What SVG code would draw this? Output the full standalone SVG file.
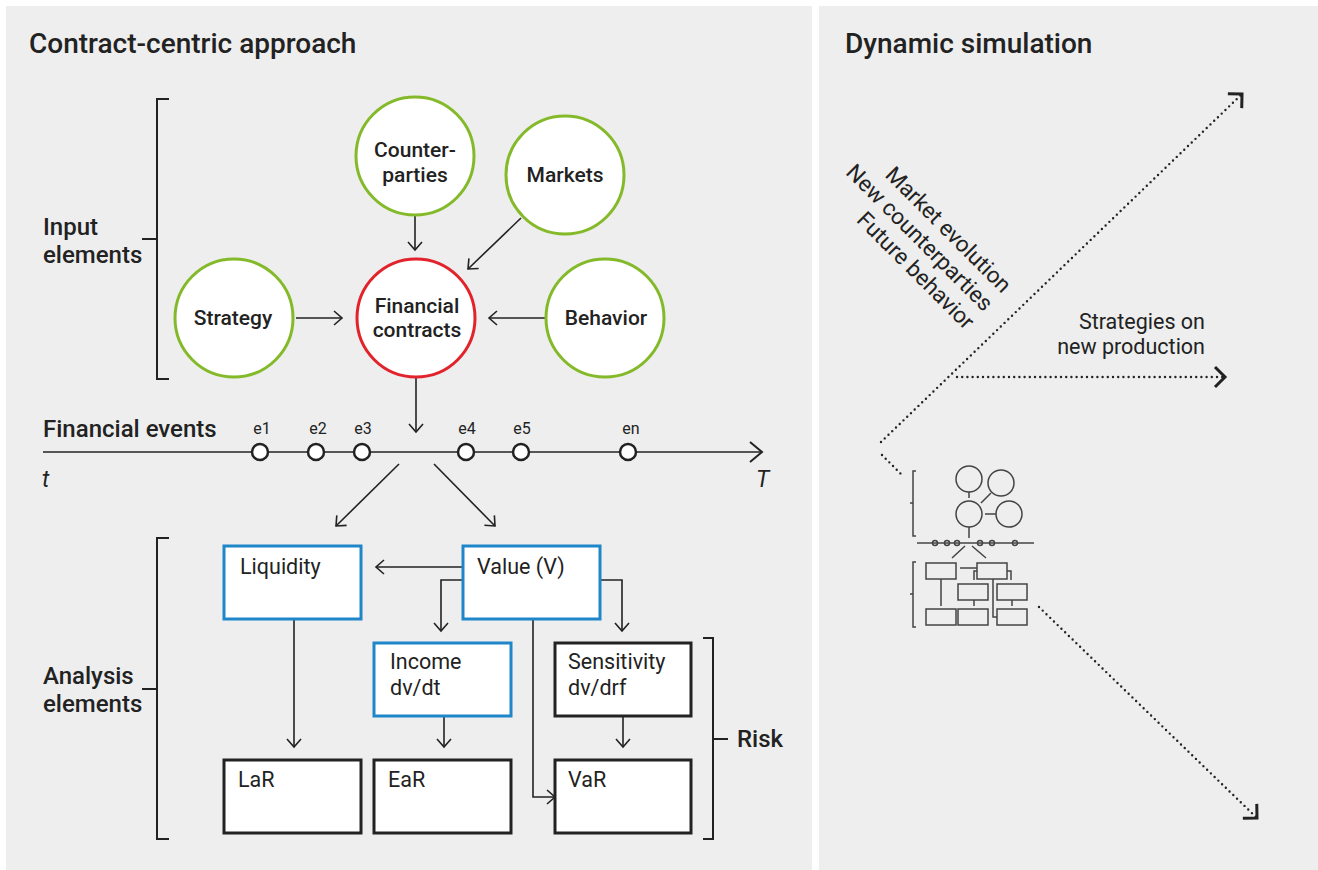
<svg xmlns="http://www.w3.org/2000/svg" width="1318" height="870" viewBox="0 0 1318 870">
<defs>
<style>
.title{font-family:Roboto,"Noto Sans",sans-serif;font-size:28px;font-weight:500;fill:#222}
.lbl{font-family:Roboto,"Noto Sans",sans-serif;font-size:24px;font-weight:500;fill:#222}
.ct{font-family:Roboto,"Noto Sans",sans-serif;font-size:21px;font-weight:500;fill:#222;text-anchor:middle}
.bt{font-family:Roboto,"Noto Sans",sans-serif;font-size:21.5px;font-weight:400;fill:#222}
.rt{font-family:Roboto,"Noto Sans",sans-serif;font-size:22.5px;font-weight:400;fill:#222;text-anchor:end}
.ev{font-family:Roboto,"Noto Sans",sans-serif;font-size:16px;font-weight:400;fill:#222;text-anchor:middle}
.it{font-family:Roboto,"Noto Sans",sans-serif;font-size:23px;font-style:italic;fill:#222}
.gc{fill:#fff;stroke:#84ba2a;stroke-width:3}
.rc{fill:#fff;stroke:#e2232b;stroke-width:3}
.bb{fill:#fff;stroke:#1f86c9;stroke-width:3}
.kb{fill:#fff;stroke:#222;stroke-width:3}
.ln{fill:none;stroke:#222;stroke-width:1.6}
.br{fill:none;stroke:#222;stroke-width:2}
.dot{fill:none;stroke:#222;stroke-width:2.4;stroke-linecap:round;stroke-dasharray:0 5.2}
.mini{fill:none;stroke:#444;stroke-width:1.5}
.ec{fill:#fff;stroke:#222;stroke-width:2.5}
</style>
<marker id="ah" markerUnits="userSpaceOnUse" markerWidth="20" markerHeight="20" viewBox="-10 -10 20 20" refX="0" refY="0" orient="auto">
<path d="M-8,-7 L0,0 L-8,7" fill="none" stroke="#222" stroke-width="1.6"/>
</marker>
<marker id="ahl" markerUnits="userSpaceOnUse" markerWidth="30" markerHeight="30" viewBox="-15 -15 30 30" refX="0" refY="0" orient="auto">
<path d="M-12,-10 L0,0 L-12,10" fill="none" stroke="#222" stroke-width="2"/>
</marker>
<marker id="ahd" markerUnits="userSpaceOnUse" markerWidth="30" markerHeight="30" viewBox="-15 -15 30 30" refX="0" refY="0" orient="auto">
<path d="M-10,-10 L0,0 L-10,10" fill="none" stroke="#222" stroke-width="3"/>
</marker>
</defs>
<rect width="1318" height="870" fill="#fff"/>
<rect x="6" y="6" width="806" height="864" fill="#eeeeee"/>
<rect x="819" y="6" width="499" height="864" fill="#eeeeee"/>

<text class="title" x="29" y="53">Contract-centric approach</text>
<text class="title" x="845" y="53">Dynamic simulation</text>

<g id="input-bracket">
<path class="br" d="M169,99 H157 V379 H169 M142,239 H157"/>
<text class="lbl" x="43" y="235">Input</text>
<text class="lbl" x="43" y="263">elements</text>
</g>

<g id="connectors">
<line class="ln" x1="415" y1="216" x2="415" y2="250" marker-end="url(#ah)"/>
<line class="ln" x1="521" y1="218" x2="468" y2="269" marker-end="url(#ah)"/>
<line class="ln" x1="296" y1="318" x2="342" y2="318" marker-end="url(#ah)"/>
<line class="ln" x1="545" y1="318" x2="489" y2="318" marker-end="url(#ah)"/>
<line class="ln" x1="416" y1="378" x2="416" y2="432" marker-end="url(#ah)"/>
<line class="ln" x1="399" y1="464" x2="336" y2="526" marker-end="url(#ah)"/>
<line class="ln" x1="434" y1="464" x2="495" y2="526" marker-end="url(#ah)"/>
<line class="ln" x1="463" y1="567" x2="376" y2="567" marker-end="url(#ah)"/>
<polyline class="ln" points="463,580 441,580 441,631" marker-end="url(#ah)"/>
<polyline class="ln" points="600,580 622,580 622,631" marker-end="url(#ah)"/>
<line class="ln" x1="294" y1="619" x2="294" y2="747" marker-end="url(#ah)"/>
<line class="ln" x1="444" y1="716" x2="444" y2="747" marker-end="url(#ah)"/>
<line class="ln" x1="623" y1="716" x2="623" y2="747" marker-end="url(#ah)"/>
<polyline class="ln" points="533,619 533,797 555,797" marker-end="url(#ah)"/>
<line class="dot" x1="881" y1="442" x2="1242" y2="94" marker-end="url(#ahd)"/>
<line class="dot" x1="957" y1="377" x2="1225" y2="377" marker-end="url(#ahd)"/>
<line class="dot" x1="882" y1="455" x2="902" y2="475"/>
<line class="dot" x1="1039" y1="607" x2="1257" y2="818" marker-end="url(#ahd)"/>
</g>

<g id="counterparties">
<circle class="gc" cx="415" cy="156" r="59"/>
<text class="ct" x="415" y="157">Counter-</text>
<text class="ct" x="415" y="182">parties</text>
</g>
<g id="markets">
<circle class="gc" cx="565" cy="175" r="59"/>
<text class="ct" x="565" y="182">Markets</text>
</g>
<g id="strategy">
<circle class="gc" cx="234" cy="318" r="59"/>
<text class="ct" x="233" y="325">Strategy</text>
</g>
<g id="financial-contracts">
<circle class="rc" cx="416" cy="318" r="59"/>
<text class="ct" x="417" y="313">Financial</text>
<text class="ct" x="417" y="337">contracts</text>
</g>
<g id="behavior">
<circle class="gc" cx="605" cy="318" r="59"/>
<text class="ct" x="606" y="325">Behavior</text>
</g>

<g id="timeline">
<text class="lbl" x="43" y="437">Financial events</text>
<line class="ln" x1="43" y1="452" x2="762" y2="452" stroke-width="2" marker-end="url(#ahl)"/>
<circle class="ec" cx="260" cy="452" r="8"/>
<circle class="ec" cx="316" cy="452" r="8"/>
<circle class="ec" cx="362" cy="452" r="8"/>
<circle class="ec" cx="466" cy="452" r="8"/>
<circle class="ec" cx="521" cy="452" r="8"/>
<circle class="ec" cx="628" cy="452" r="8"/>
<text class="ev" x="262" y="434">e1</text>
<text class="ev" x="318" y="434">e2</text>
<text class="ev" x="363" y="434">e3</text>
<text class="ev" x="467" y="434">e4</text>
<text class="ev" x="522" y="434">e5</text>
<text class="ev" x="631" y="434">en</text>
<text class="it" x="42" y="487">t</text>
<text class="it" x="756" y="487">T</text>
</g>

<g id="analysis-bracket">
<path class="br" d="M169,538 H157 V839 H169 M142,689 H157"/>
<text class="lbl" x="43" y="684">Analysis</text>
<text class="lbl" x="43" y="712">elements</text>
</g>

<g id="liquidity">
<rect class="bb" x="224" y="546" width="137" height="73"/>
<text class="bt" x="240" y="574">Liquidity</text>
</g>
<g id="value">
<rect class="bb" x="463" y="546" width="137" height="73"/>
<text class="bt" x="477" y="574">Value (V)</text>
</g>
<g id="income">
<rect class="bb" x="374" y="643" width="137" height="73"/>
<text class="bt" x="390" y="669">Income</text>
<text class="bt" x="390" y="695">dv/dt</text>
</g>
<g id="sensitivity">
<rect class="kb" x="555" y="643" width="136" height="73"/>
<text class="bt" x="568" y="669">Sensitivity</text>
<text class="bt" x="568" y="695">dv/drf</text>
</g>
<g id="lar">
<rect class="kb" x="224" y="760" width="137" height="73"/>
<text class="bt" x="238" y="787">LaR</text>
</g>
<g id="ear">
<rect class="kb" x="374" y="760" width="137" height="73"/>
<text class="bt" x="388" y="787">EaR</text>
</g>
<g id="var">
<rect class="kb" x="555" y="760" width="136" height="73"/>
<text class="bt" x="568" y="787">VaR</text>
</g>

<g id="risk-bracket">
<path class="br" d="M703,638 H713 V839 H703 M713,739 H728"/>
<text class="lbl" x="737" y="747">Risk</text>
</g>

<g id="future-labels" transform="translate(1002,294) rotate(45)">
<text class="rt" x="0" y="0">Market evolution</text>
<text class="rt" x="0" y="26">New counterparties</text>
<text class="rt" x="0" y="52">Future behavior</text>
</g>
<g id="strategies-label">
<text class="bt" x="1205" y="329" text-anchor="end">Strategies on</text>
<text class="bt" x="1205" y="354" text-anchor="end">new production</text>
</g>

<g id="mini-diagram">
<path class="mini" d="M916,471 H913 V536 H916 M910,503 H913"/>
<circle class="mini" cx="969" cy="479" r="13"/>
<circle class="mini" cx="1001" cy="483" r="13"/>
<circle class="mini" cx="969" cy="514" r="13"/>
<circle class="mini" cx="1009" cy="514" r="13"/>
<path class="mini" d="M969,492 V498 M991,493 L981,503 M985,514 H996 M969,527 V538"/>
<line class="mini" x1="917" y1="543" x2="1034" y2="543"/>
<circle class="mini" cx="935" cy="543" r="2.5" fill="#eee"/>
<circle class="mini" cx="947" cy="543" r="2.5" fill="#eee"/>
<circle class="mini" cx="957" cy="543" r="2.5" fill="#eee"/>
<circle class="mini" cx="980" cy="543" r="2.5" fill="#eee"/>
<circle class="mini" cx="992" cy="543" r="2.5" fill="#eee"/>
<circle class="mini" cx="1015" cy="543" r="2.5" fill="#eee"/>
<path class="mini" d="M965,546 L952,558 M972,546 L986,558"/>
<rect class="mini" x="926" y="563" width="30" height="16"/>
<rect class="mini" x="977" y="563" width="30" height="16"/>
<rect class="mini" x="958" y="584" width="30" height="16"/>
<rect class="mini" x="997" y="584" width="30" height="16"/>
<rect class="mini" x="926" y="609" width="30" height="16"/>
<rect class="mini" x="958" y="609" width="30" height="16"/>
<rect class="mini" x="997" y="609" width="30" height="16"/>
<path class="mini" d="M960,568 H977 M977,571 H974 V580 M1007,571 H1011 V580 M941,579 V606 M974,600 V606 M1012,600 V606 M993,579 V617 H997"/>
<path class="mini" d="M916,562 H913 V627 H916 M910,594 H913"/>
</g>
</svg>
